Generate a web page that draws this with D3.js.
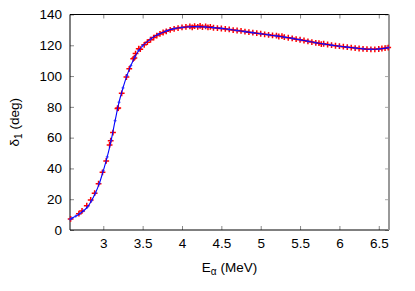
<!DOCTYPE html>
<html>
  <head>
    <style>
    body { margin: 0px; overflow: hidden; background: white; }
    text { font-family: "Liberation Sans", Arial, sans-serif; fill: #000; }
    </style>
    <script src="https://d3js.org/d3.v7.min.js"></script>
  </head>
  <body>
    <svg width="415" height="291"></svg>
    <script>
        // fitted curve (blue)
        const fitE = [2.58, 2.6, 2.65, 2.7, 2.75, 2.8, 2.85, 2.9, 2.95, 3.0, 3.05, 3.1, 3.15, 3.2, 3.25, 3.3, 3.35, 3.4, 3.45, 3.5,
            3.6, 3.7, 3.8, 3.9, 4.0, 4.1, 4.2, 4.3, 4.4, 4.5, 4.6, 4.7, 4.8, 4.9, 5.0, 5.1, 5.2, 5.3, 5.4, 5.5,
            5.6, 5.7, 5.8, 5.9, 6.0, 6.1, 6.2, 6.3, 6.4, 6.5, 6.62];
        const fitDelta = [7.0, 7.6, 9.0, 10.6, 12.5, 15.0, 19.0, 24.0, 30.3, 38.5, 47.5, 58.3, 71.0, 83.0, 92.3, 100.3, 106.8, 112.3, 116.6, 119.7,
            124.0, 127.1, 129.3, 130.8, 131.6, 132.0, 132.1, 131.9, 131.5, 131.0, 130.3, 129.6, 128.9, 128.2, 127.5, 126.8, 126.1, 125.3, 124.5, 123.6,
            122.6, 121.6, 120.8, 120.1, 119.4, 118.8, 118.2, 117.7, 117.4, 117.6, 118.5];

        // phase shift data (red)
        const dataE = [2.585, 2.69, 2.73, 2.79, 2.84, 2.89, 2.94, 2.99, 3.037, 3.08, 3.094, 3.123, 3.18, 3.19, 3.234, 3.294, 3.33, 3.38, 3.395, 3.41, 3.45,
            3.47, 3.52, 3.56, 3.60, 3.64, 3.68, 3.72, 3.76, 3.80, 3.85, 3.90, 3.95, 4.00, 4.05, 4.10, 4.13, 4.16, 4.20, 4.23, 4.26,
            4.30, 4.33, 4.36, 4.40, 4.45, 4.50, 4.55, 4.60, 4.65, 4.70, 4.75, 4.80, 4.85, 4.90, 4.95, 5.00, 5.05, 5.10, 5.15, 5.20,
            5.23, 5.27, 5.30, 5.35, 5.40, 5.45, 5.50, 5.55, 5.60, 5.65, 5.70, 5.74, 5.77, 5.80, 5.85, 5.90, 5.95, 6.00, 6.05, 6.10,
            6.15, 6.20, 6.25, 6.30, 6.35, 6.40, 6.45, 6.50, 6.54, 6.58, 6.62];
        const dataDelta = [7.2, 10.6, 12.4, 15.8, 19.5, 23.9, 30.1, 37.5, 44.9, 55.3, 58.0, 63.3, 79.0, 79.2, 88.8, 99.4, 104.7, 111.2, 111.8, 114.6, 117.8,
            117.5, 120.3, 122.0, 123.6, 125.0, 126.3, 127.4, 128.3, 129.1, 130.0, 130.7, 131.2, 131.6, 131.9, 132.3, 131.6, 132.5, 132.0, 132.6, 131.8,
            132.3, 131.7, 132.0, 131.4, 131.2, 130.9, 130.6, 130.3, 129.9, 129.6, 129.3, 128.9, 128.5, 128.2, 127.9, 127.5, 127.1, 126.8, 126.4, 126.3,
            125.7, 125.9, 125.3, 124.9, 124.5, 124.0, 123.6, 123.1, 122.6, 122.1, 121.6, 121.4, 120.8, 121.0, 120.5, 120.1, 119.7, 119.4, 119.1, 118.8,
            118.5, 118.2, 117.9, 117.7, 117.5, 117.4, 117.4, 117.6, 117.9, 118.1, 118.5];

        const xTicks = [3, 3.5, 4, 4.5, 5, 5.5, 6, 6.5];
        const yTicks = [0, 20, 40, 60, 80, 100, 120, 140];

        const svg = d3.select('svg');
        const margin = { top: 14.5, right: 26, bottom: 61, left: 70 };
        const width = +svg.attr('width');
        const height = +svg.attr('height');
        const innerWidth = width - margin.left - margin.right;
        const innerHeight = height - margin.top - margin.bottom;

        const xScale = d3.scaleLinear().domain([2.577, 6.63]).range([0, innerWidth]);
        const yScale = d3.scaleLinear().domain([0, 140]).range([innerHeight, 0]);

        const g = svg.append('g')
            .attr('transform', `translate(${margin.left},${margin.top})`);

        //axes with inward ticks
        const xAxisG = g.append('g')
            .attr('transform', `translate(0,${innerHeight})`)
            .call(d3.axisBottom(xScale).tickValues(xTicks).tickSize(-4).tickPadding(8).tickFormat(d3.format('')));
        const yAxisG = g.append('g')
            .call(d3.axisLeft(yScale).tickValues(yTicks).tickSize(-4).tickPadding(8));
        [xAxisG, yAxisG].forEach(a => {
            a.select('.domain').remove();
            a.selectAll('.tick line').attr('stroke', '#888');
            a.selectAll('.tick text').attr('font-size', '13.5px').attr('fill', '#000');
        });

        //mirror ticks (no labels)
        g.append('g').call(d3.axisTop(xScale).tickValues(xTicks).tickSize(-4))
            .call(a => a.select('.domain').remove())
            .call(a => a.selectAll('text').remove())
            .selectAll('line').attr('stroke', '#888');
        g.append('g').attr('transform', `translate(${innerWidth},0)`)
            .call(d3.axisRight(yScale).tickValues(yTicks).tickSize(-4))
            .call(a => a.select('.domain').remove())
            .call(a => a.selectAll('text').remove())
            .selectAll('line').attr('stroke', '#aaa');

        //frame
        g.append('line').attr('x1', 0).attr('x2', innerWidth).attr('y1', 0).attr('y2', 0).attr('stroke', '#000');
        g.append('line').attr('x1', 0).attr('x2', innerWidth).attr('y1', innerHeight).attr('y2', innerHeight).attr('stroke', '#000');
        g.append('line').attr('x1', 0).attr('x2', 0).attr('y1', 0).attr('y2', innerHeight).attr('stroke', '#000');
        g.append('line').attr('x1', innerWidth).attr('x2', innerWidth).attr('y1', 0).attr('y2', innerHeight)
            .attr('stroke', '#999').attr('stroke-width', 2);

        //red data points
        const data = dataE.map((e, i) => ({ e: e, d: dataDelta[i] }));
        const p = 2.9;
        g.append('g').selectAll('path').data(data)
            .enter().append('path')
                .attr('d', d => {
                    const x = xScale(d.e), y = yScale(d.d);
                    return `M${x - p},${y}H${x + p}M${x},${y - p}V${y + p}`;
                })
                .attr('stroke', '#ff0000')
                .attr('stroke-width', 1.5)
                .attr('fill', 'none');

        //blue fitted line
        const fit = fitE.map((e, i) => ({ e: e, d: fitDelta[i] }));
        const line = d3.line()
            .x(d => xScale(d.e))
            .y(d => yScale(d.d))
            .curve(d3.curveMonotoneX);
        g.append('path').datum(fit)
            .attr('d', line)
            .attr('fill', 'none')
            .attr('stroke', '#0000ff')
            .attr('stroke-width', 1.1);
        const q = 1.5;
        g.append('g').selectAll('path').data(fit)
            .enter().append('path')
                .attr('d', d => {
                    const x = xScale(d.e), y = yScale(d.d);
                    return `M${x - q},${y}H${x + q}M${x},${y - q}V${y + q}`;
                })
                .attr('stroke', '#2020ff')
                .attr('stroke-width', 0.8)
                .attr('fill', 'none');

        //axis labels
        const xl = svg.append('text')
            .attr('x', margin.left + innerWidth / 2)
            .attr('y', 272)
            .attr('text-anchor', 'middle')
            .attr('font-size', '13.5px');
        xl.append('tspan').text('E');
        xl.append('tspan').text('α').attr('font-size', '10px').attr('dy', 3);
        xl.append('tspan').text(' (MeV)').attr('dy', -3);

        const yl = svg.append('text')
            .attr('transform', `translate(19,${margin.top + innerHeight / 2}) rotate(-90)`)
            .attr('text-anchor', 'middle')
            .attr('font-size', '13.5px');
        yl.append('tspan').text('δ');
        yl.append('tspan').text('1').attr('font-size', '10px').attr('dy', 3);
        yl.append('tspan').text(' (deg)').attr('dy', -3);
    </script>
  </body>
</html>
